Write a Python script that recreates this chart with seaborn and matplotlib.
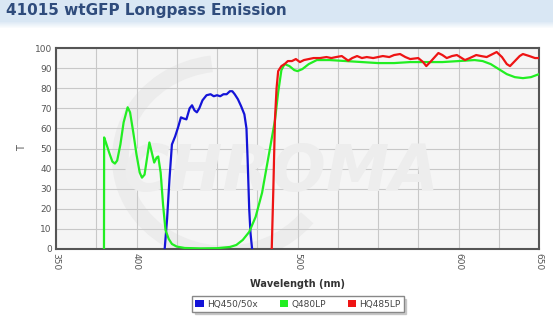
import numpy as np
import pandas as pd
import matplotlib
matplotlib.use("Agg")
import matplotlib.pyplot as plt
from matplotlib.patches import Patch, Rectangle, Arc
import seaborn as sns

# Transmission spectra (wavelength in nm, T in %)
hq450_wl = [417.5, 419, 420.5, 422, 424, 426, 427.6, 429, 431, 433, 434.5, 436, 437.5,
            439, 441, 443.5, 446, 448, 450, 452, 454, 456, 458, 459.5, 461, 463, 465,
            467, 468.3, 469, 470, 470.8, 471.8]
hq450_t = [0, 15, 35, 52, 56, 61, 65.5, 65, 64.5, 70, 71.5, 69, 68,
           70, 74, 76.5, 77, 76, 76.5, 76, 77, 77, 78.5, 78.5, 77, 74.5, 71,
           67, 60, 45, 20, 8, 0]

q480_wl = [379.8, 379.9, 381, 383, 385, 386.6, 388, 390, 392, 394.5, 396, 398, 400,
           402, 403.4, 405, 406.5, 408, 409.5, 411, 412.5, 413.5, 415, 416.5, 418,
           420, 422, 425, 430, 440, 450, 458, 462, 466, 470, 474, 478, 482, 486,
           488, 490, 492, 495, 498, 500, 503, 507, 512, 520, 530, 540, 550, 560,
           570, 580, 590, 600, 610, 615, 620, 625, 630, 635, 640, 645, 650]
q480_t = [0, 55.5, 53, 48, 43.5, 42.5, 44, 52, 63, 70.5, 68, 58, 47,
          38, 35.5, 37, 45, 53, 48, 43, 45.5, 46, 38, 22, 9.5,
          5, 2.5, 1.2, 0.5, 0.3, 0.4, 1.0, 2, 4.5, 8.5, 16, 28, 46, 64,
          78, 89, 92, 91, 89, 88.5, 89.5, 92, 94, 94, 93.5, 93, 92.5, 92.5,
          93, 93, 93, 93.5, 94, 93.5, 92, 89.5, 87, 85.5, 85, 85.5, 87]

hq485_wl = [484, 485, 486, 487, 488, 490, 492, 494, 496.5, 499, 501.5, 504, 507, 510,
            514, 518, 521, 524, 527.5, 531.5, 534, 537, 540, 543, 547, 550, 553,
            557, 560, 563.7, 567, 570, 575, 578, 580, 583, 587.5, 590, 592.7, 596,
            599, 601, 604, 607, 611, 614, 617.5, 620, 623.7, 627, 630, 632, 635,
            638, 640, 644, 647.5, 650]
hq485_t = [0, 30, 64.5, 80, 88.5, 91, 92, 93.5, 93.5, 94.5, 93, 94, 94.5, 95,
           95, 95.5, 95, 95.5, 96, 93.7, 95, 96, 95, 95.5, 95, 95.5, 96,
           95.5, 96.5, 97, 95.5, 94.5, 95, 93, 91, 93.5, 97.5, 96.5, 95, 96,
           96.5, 95.5, 94, 95, 96.5, 96, 95.5, 96.5, 98, 95.5, 92, 91, 93.5,
           96, 97, 96, 95, 95]

series_names = ["HQ450/50x", "Q480LP", "HQ485LP"]
series_colors = ["#1414d8", "#22ee22", "#ee1414"]
x_tick_labels = {350: "350", 400: "400", 500: "500", 600: "600", 650: "650"}

frames = []
for name, wl, t in zip(series_names, [hq450_wl, q480_wl, hq485_wl],
                       [hq450_t, q480_t, hq485_t]):
    frames.append(pd.DataFrame({"Wavelength": wl, "T": t, "Filter": name}))
df = pd.concat(frames, ignore_index=True)

sns.set_style("white")
plt.rcParams["font.family"] = ["DejaVu Sans"]

W, H = 553, 334
fig = plt.figure(figsize=(W / 100, H / 100), dpi=100)

# header band
fig.patches.append(Rectangle((0, 1 - 22 / H), 1, 22 / H, transform=fig.transFigure,
                             facecolor="#d9e7f4", edgecolor="none", zorder=0))
for i in range(6):
    fig.patches.append(Rectangle((0, 1 - (23 + i) / H), 1, 1 / H, transform=fig.transFigure,
                                 facecolor="#d9e7f4", alpha=0.8 - i * 0.13,
                                 edgecolor="none", zorder=0))
fig.text(6 / W, 1 - 11 / H, "41015 wtGFP Longpass Emission", fontsize=11,
         fontweight="bold", color="#2f4c7c", va="center", ha="left")

ax = fig.add_axes([56 / W, 1 - 249 / H, (539 - 56) / W, (249 - 48) / H])
ax.set_facecolor("#f5f5f5")

# faint logo watermark
ax.add_patch(Arc((455, 45), 130, 95, theta1=100, theta2=330, lw=12,
                 color="#ececec", zorder=0.5))
ax.text(490, 38, "CHROMA", fontsize=46, fontstyle="italic", fontweight="bold",
        color="#ededed", ha="center", va="center", zorder=0.6)

sns.lineplot(data=df, x="Wavelength", y="T", hue="Filter", palette=series_colors,
             hue_order=series_names, sort=False, estimator=None, lw=1.6, ax=ax,
             legend=False, zorder=3)

ax.set_xlim(350, 650)
ax.set_ylim(0, 100)
ax.set_xticks(np.arange(350, 651, 25))
ax.set_xticklabels([x_tick_labels.get(int(v), "") for v in np.arange(350, 651, 25)],
                   rotation=270, fontsize=6.5, color="#555555")
ax.set_yticks(np.arange(0, 101, 10))
ax.set_yticklabels([str(v) for v in range(0, 101, 10)], fontsize=6.5, color="#555555")
ax.tick_params(length=0, pad=3)
ax.grid(True, color="#c8c8c8", lw=0.8)
ax.set_axisbelow(True)
for s in ax.spines.values():
    s.set_color("#555555")
    s.set_linewidth(1.5)

ax.set_xlabel("")
ax.set_ylabel("")
fig.text(297 / W, 1 - 284 / H, "Wavelength (nm)", fontsize=7, fontweight="bold",
         color="#333333", ha="center", va="center")
fig.text(22 / W, 1 - 148 / H, "T", fontsize=7, color="#555555", rotation=90,
         ha="center", va="center")

handles = [Patch(facecolor=c, edgecolor="none", label=n)
           for n, c in zip(series_names, series_colors)]
leg = fig.legend(handles=handles, loc="center", bbox_to_anchor=(298 / W, 1 - 304 / H),
                 ncol=3, fontsize=6.5, frameon=True, fancybox=False,
                 shadow={"color": "#b0b0b0", "alpha": 0.6},
                 handlelength=0.9, handleheight=0.9, handletextpad=0.4,
                 columnspacing=2.4, borderpad=0.35)
leg.get_frame().set_edgecolor("#888888")
leg.get_frame().set_linewidth(1.0)
for t in leg.get_texts():
    t.set_color("#444444")

fig.savefig("out.png", dpi=100)
